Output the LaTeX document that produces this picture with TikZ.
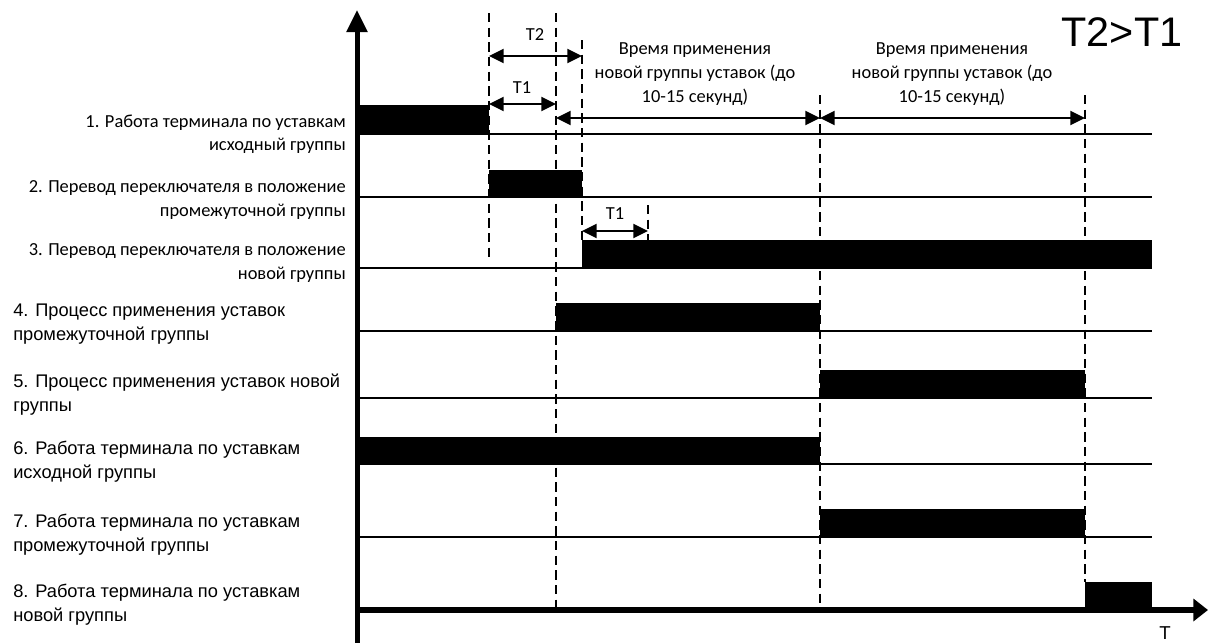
\documentclass[tikz,border=0pt]{standalone}
\usepackage{fontspec}
\setmainfont{Carlito}
\newfontfamily\arialf{Liberation Sans}
\usetikzlibrary{arrows.meta}
\begin{document}
\begin{tikzpicture}[x=0.75pt, y=-0.75pt, >={Triangle[length=11pt,width=10.5pt]},
  bar/.style={fill=black},
  base/.style={line width=1.5pt},
  guide/.style={line width=1.3pt, dash pattern=on 7pt off 4pt},
  dim/.style={<->, line width=1.5pt},
  lbl/.style={inner sep=0pt, anchor=east, align=right, font=\fontsize{13.8}{17.5}\selectfont},
  lbr/.style={inner sep=0pt, anchor=west, align=left, font=\arialf\fontsize{13.7}{18}\selectfont},
  note/.style={inner sep=0pt, align=center, font=\fontsize{13.8}{18}\selectfont}]
\useasboundingbox (0,0) rectangle (1208,643);

% bars
\fill[bar] (357,105) rectangle (489,134);
\fill[bar] (489,170) rectangle (582,197);
\fill[bar] (582,240) rectangle (1152,268);
\fill[bar] (556,303) rectangle (820,331);
\fill[bar] (820,370) rectangle (1085,398);
\fill[bar] (357,437) rectangle (820,464);
\fill[bar] (820,509) rectangle (1085,537);
\fill[bar] (1085,582) rectangle (1152,610);

% base lines
\foreach \y in {134,197,268,331,398,464,537}
  \draw[base] (357,\y)--(1152,\y);

% dashed time marks
\draw[guide] (489,13)--(489,258);
\draw[guide] (556,13)--(556,610);
\draw[guide] (582,40)--(582,240);
\draw[guide] (648,205)--(648,240);
\draw[guide] (820,95)--(820,610);
\draw[guide] (1085,95)--(1085,582);

% axes
\draw[line width=3.75pt, -{Triangle[length=16.5pt,width=15pt]}] (357,643)--(357,10);
\draw[line width=4.5pt, -{Triangle[length=11pt,width=16.5pt]}] (357,610)--(1208,610);
\node[inner sep=0pt, font=\arialf\fontsize{14}{14}\selectfont] (taxis) at (1165,633) {T};
\node[inner sep=0pt, font=\arialf\fontsize{31}{31}\selectfont] (cond) at (1122,32) {T2>T1};

% intervals
\coordinate (p1) at (489,56); \coordinate (p2) at (582,56);
\coordinate (q1) at (489,104); \coordinate (q2) at (556,104);
\coordinate (r1) at (556,118); \coordinate (r2) at (820,118); \coordinate (r3) at (1085,118);
\coordinate (s1) at (582,231); \coordinate (s2) at (648,231);
\draw[dim] (p1)--(p2);
\draw[dim] (q1)--(q2);
\draw[dim] (r1)--(r2);
\draw[dim] (r2)--(r3);
\draw[dim] (s1)--(s2);
\node[note] (lt2) at (535,35) {T2};
\node[note] (lt1) at (522,88) {T1};
\node[note] (lt1b) at (615,214) {T1};
\node[note] (lnew) at (695,74) {Время применения\\новой группы уставок (до\\10-15 секунд)};
\node[note] (lnewb) at (952,74) {Время применения\\новой группы уставок (до\\10-15 секунд)};

% row labels
\node[lbl] (lab1) at (346,134) {1. Работа терминала по уставкам\\исходный группы};
\node[lbl] (lab2) at (346,200) {2. Перевод переключателя в положение\\промежуточной группы};
\node[lbl] (lab3) at (346,263) {3. Перевод переключателя в положение\\новой группы};
\node[lbr] (lab4) at (13,324) {4. Процесс применения уставок\\промежуточной группы};
\node[lbr] (lab5) at (13,395) {5. Процесс применения уставок новой\\группы};
\node[lbr] (lab6) at (13,462) {6. Работа терминала по уставкам\\исходной группы};
\node[lbr] (lab7) at (13,535) {7. Работа терминала по уставкам\\промежуточной группы};
\node[lbr] (lab8) at (13,605) {8. Работа терминала по уставкам\\новой группы};
\end{tikzpicture}
\end{document}
